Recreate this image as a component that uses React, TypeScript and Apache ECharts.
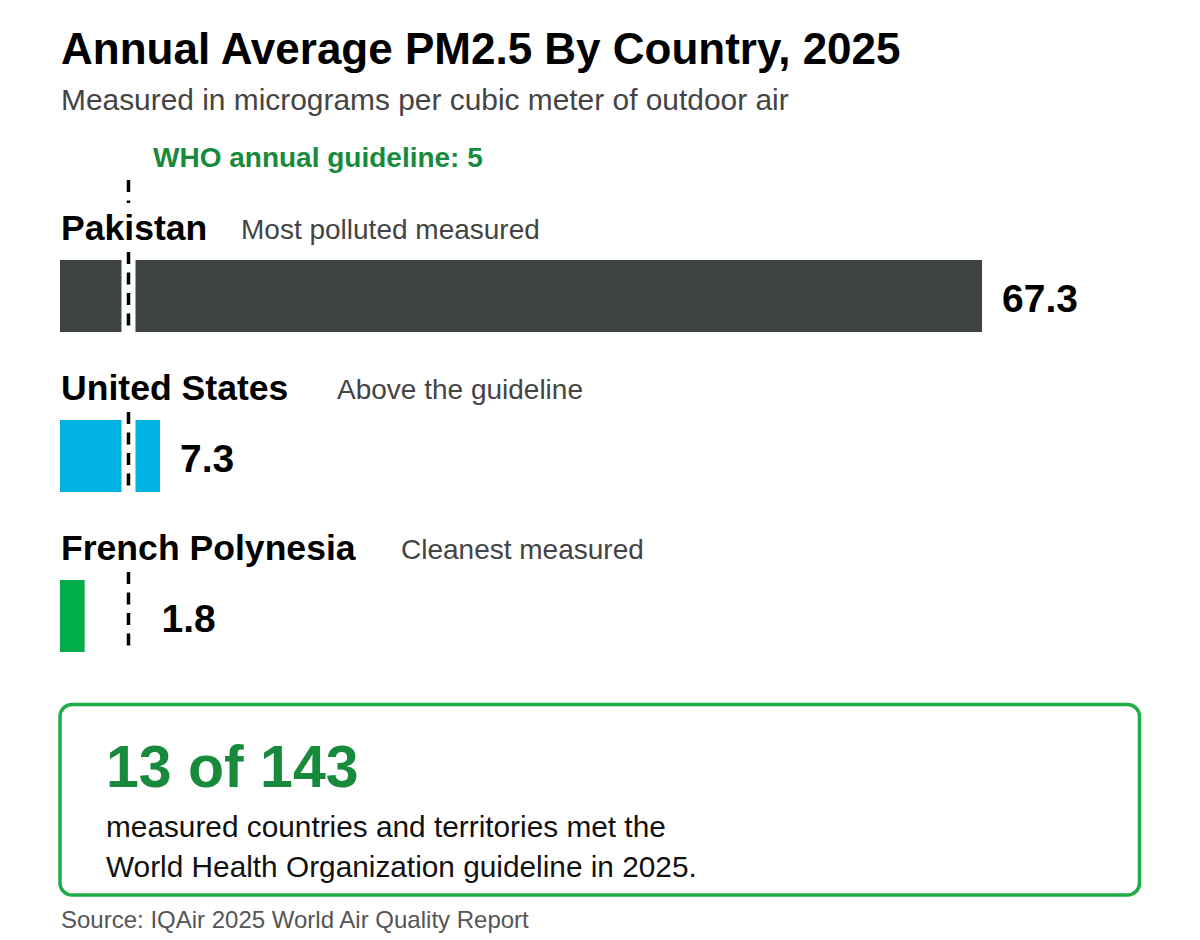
import React, { useEffect, useRef } from "react";
import * as echarts from "echarts";

// ---------- data ----------
const TITLE = "Annual Average PM2.5 By Country, 2025";
const SUBTITLE = "Measured in micrograms per cubic meter of outdoor air";
const countries = ["Pakistan", "United States", "French Polynesia"];
const notes = ["Most polluted measured", "Above the guideline", "Cleanest measured"];
const pm25 = [67.3, 7.3, 1.8];
const WHO_GUIDELINE = 5;
const metGuideline = 13;
const measuredTotal = 143;
const summaryLines = [
  "measured countries and territories met the",
  "World Health Organization guideline in 2025.",
];
const SOURCE = "Source: IQAir 2025 World Air Quality Report";

// ---------- styles / layout ----------
const FONT = '"Liberation Sans", Arial, Helvetica, sans-serif';
const BAR_COLORS = ["#3e4444", "#00b2e3", "#00ad46"];
const GREEN_TEXT = "#178a3c";
const GREEN_BORDER = "#1fad46";
const NOTE_X = [241, 337, 401];

export default function App() {
  const ref = useRef<HTMLDivElement>(null);

  useEffect(() => {
    if (!ref.current) return;
    const chart = echarts.init(ref.current, null, { renderer: "svg" });

    const rows = pm25.map((v, i) => [v, i]);

    const option: any = {
      animation: false,
      backgroundColor: "#ffffff",
      grid: { left: 60, right: 218, top: 180, height: 470, containLabel: false },
      xAxis: { type: "value", min: 0, max: "dataMax", show: false },
      yAxis: { type: "value", inverse: true, min: -0.725, max: 2.2125, show: false },
      series: [
        {
          type: "custom",
          z: 2,
          encode: { x: 0, y: 1 },
          data: rows,
          renderItem: (params: any, api: any) => {
            const v = api.value(0);
            const idx = api.value(1);
            const start = api.coord([0, idx]);
            const end = api.coord([v, idx]);
            const who = api.coord([WHO_GUIDELINE, idx]);
            const h = api.size([0, 1])[1] * 0.45;
            const children: any[] = [
              {
                type: "rect",
                shape: { x: start[0], y: start[1] - h / 2, width: end[0] - start[0], height: h },
                style: { fill: BAR_COLORS[idx] },
              },
            ];
            if (v > WHO_GUIDELINE) {
              children.push({
                type: "rect",
                shape: { x: who[0] - 7, y: start[1] - h / 2, width: 14, height: h },
                style: { fill: "#ffffff" },
              });
            }
            return { type: "group", children };
          },
        },
        {
          type: "custom",
          z: 3,
          encode: { x: 0, y: 1 },
          data: [[WHO_GUIDELINE, 0]],
          renderItem: (params: any, api: any) => {
            const cs = params.coordSys;
            const wx = api.coord([api.value(0), 0])[0];
            const h = api.size([0, 1])[1] * 0.45;
            const dash = { stroke: "#000000", lineWidth: 3.5, lineDash: [12, 8.5] };
            const first = api.coord([api.value(0), 0])[1];
            const children: any[] = [
              {
                type: "line",
                shape: { x1: wx, y1: cs.y, x2: wx, y2: first - h / 2 - 57 },
                style: dash,
              },
            ];
            pm25.forEach((_, i) => {
              const cy = api.coord([api.value(0), i])[1];
              children.push({
                type: "line",
                shape: { x1: wx, y1: cy - h / 2 - 8, x2: wx, y2: cy + h / 2 },
                style: dash,
              });
            });
            children.push({
              type: "text",
              x: wx + 24.5,
              y: cs.y - 22.5,
              style: {
                text: `WHO annual guideline: ${WHO_GUIDELINE}`,
                fontFamily: FONT,
                fontSize: 28,
                fontWeight: "bold",
                fill: GREEN_TEXT,
                align: "left",
                verticalAlign: "middle",
              },
            });
            return { type: "group", children };
          },
        },
        {
          type: "custom",
          z: 4,
          encode: { x: 0, y: 1 },
          data: rows,
          renderItem: (params: any, api: any) => {
            const v = api.value(0);
            const idx = api.value(1);
            const start = api.coord([0, idx]);
            const end = api.coord([v, idx]);
            const who = api.coord([WHO_GUIDELINE, idx]);
            const labelX = v > WHO_GUIDELINE ? end[0] + 20 : who[0] + 33;
            return {
              type: "group",
              children: [
                {
                  type: "text",
                  x: start[0] + 1,
                  y: start[1] - 68.5,
                  style: {
                    text: countries[idx],
                    fontFamily: FONT,
                    fontSize: 35.6,
                    fontWeight: "bold",
                    fill: "#000000",
                    align: "left",
                    verticalAlign: "middle",
                  },
                },
                {
                  type: "text",
                  x: NOTE_X[idx],
                  y: start[1] - 67,
                  style: {
                    text: notes[idx],
                    fontFamily: FONT,
                    fontSize: 28,
                    fill: "#444444",
                    align: "left",
                    verticalAlign: "middle",
                  },
                },
                {
                  type: "text",
                  x: labelX,
                  y: start[1] + 2,
                  style: {
                    text: v.toFixed(1),
                    fontFamily: FONT,
                    fontSize: 39,
                    fontWeight: "bold",
                    fill: "#000000",
                    align: "left",
                    verticalAlign: "middle",
                  },
                },
              ],
            };
          },
        },
      ],
      graphic: [
        {
          type: "text",
          x: 61,
          y: 48.5,
          style: {
            text: TITLE,
            fontFamily: FONT,
            fontSize: 44,
            fontWeight: "bold",
            fill: "#000000",
            align: "left",
            verticalAlign: "middle",
          },
        },
        {
          type: "text",
          x: 61,
          y: 99,
          style: {
            text: SUBTITLE,
            fontFamily: FONT,
            fontSize: 29.9,
            fill: "#444444",
            align: "left",
            verticalAlign: "middle",
          },
        },
        {
          type: "rect",
          shape: { x: 60, y: 704.5, width: 1079.5, height: 190.5, r: 12 },
          style: { fill: "none", stroke: GREEN_BORDER, lineWidth: 3.5 },
        },
        {
          type: "text",
          x: 106,
          y: 766.5,
          style: {
            text: `${metGuideline} of ${measuredTotal}`,
            fontFamily: FONT,
            fontSize: 59,
            fontWeight: "bold",
            fill: GREEN_TEXT,
            align: "left",
            verticalAlign: "middle",
          },
        },
        ...summaryLines.map((line, i) => ({
          type: "text",
          x: 106,
          y: 826 + i * 40.5,
          style: {
            text: line,
            fontFamily: FONT,
            fontSize: 29.8,
            fill: "#111111",
            align: "left",
            verticalAlign: "middle",
          },
        })),
        {
          type: "text",
          x: 61,
          y: 919,
          style: {
            text: SOURCE,
            fontFamily: FONT,
            fontSize: 24,
            fill: "#555555",
            align: "left",
            verticalAlign: "middle",
          },
        },
      ],
    };

    chart.setOption(option);
    return () => chart.dispose();
  }, []);

  return (
    <div
      ref={ref}
      style={{ position: "fixed", left: 0, top: 0, width: 1200, height: 940, background: "#ffffff" }}
    />
  );
}
